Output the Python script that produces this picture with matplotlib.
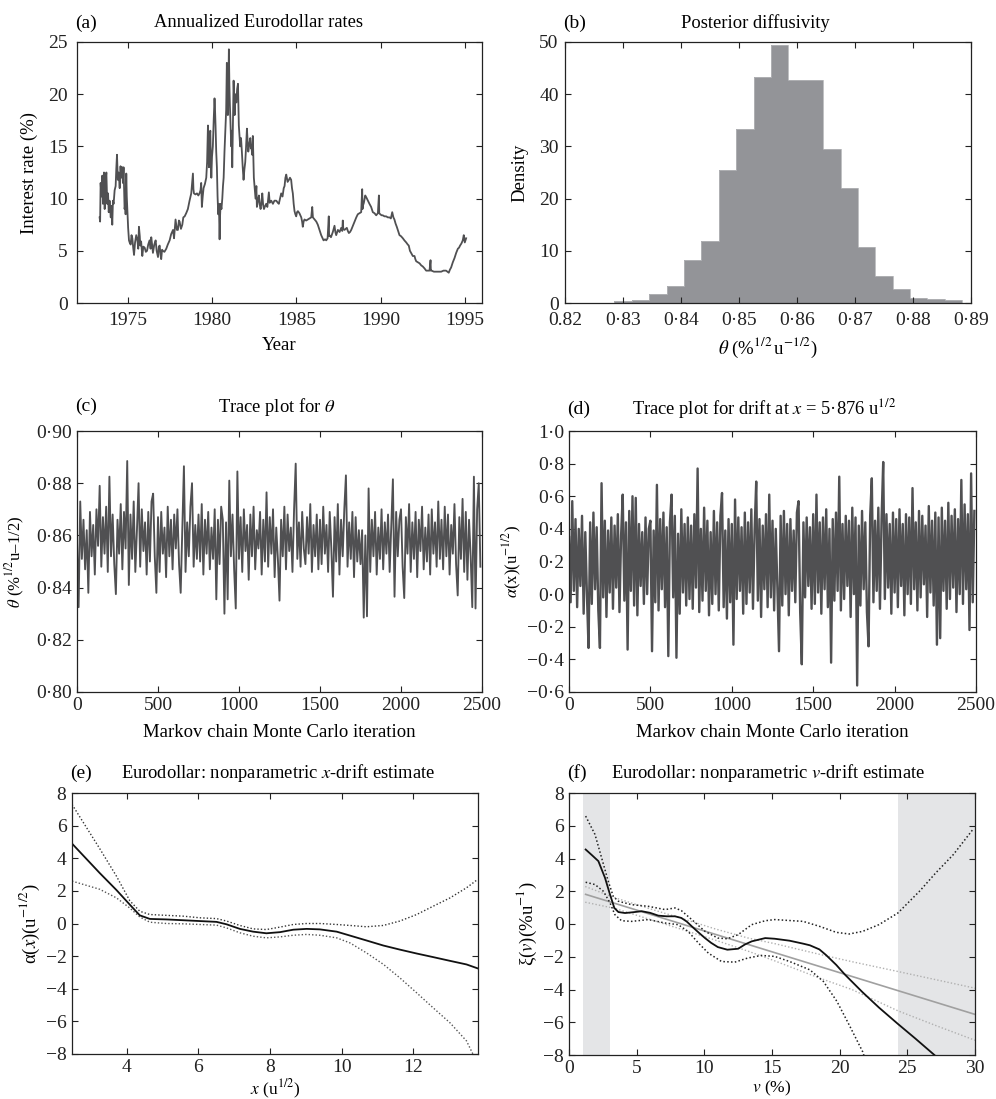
import numpy as np
import matplotlib
matplotlib.use("Agg")
import matplotlib.pyplot as plt

plt.rcParams['font.family'] = ['Liberation Serif', 'DejaVu Serif']
plt.rcParams['mathtext.fontset'] = 'stix'

# ---- (a) Eurodollar rates ----
years_a = [
    1973.34, 1973.37, 1973.40, 1973.45, 1973.50, 1973.54, 1973.60, 1973.64, 1973.70, 1973.74,
    1973.79, 1973.84, 1973.88, 1973.93, 1974.00, 1974.05, 1974.09, 1974.13, 1974.17, 1974.23,
    1974.29, 1974.33, 1974.37, 1974.42, 1974.47, 1974.53, 1974.58, 1974.62, 1974.68, 1974.72,
    1974.76, 1974.80, 1974.82, 1974.86, 1974.88, 1974.92, 1974.95, 1974.98, 1975.03, 1975.08,
    1975.12, 1975.18, 1975.23, 1975.28, 1975.33, 1975.38, 1975.44, 1975.51, 1975.58, 1975.63,
    1975.67, 1975.72, 1975.75, 1975.80, 1975.87, 1975.93, 1976.01, 1976.08, 1976.15, 1976.22,
    1976.30, 1976.36, 1976.40, 1976.45, 1976.50, 1976.58, 1976.66, 1976.72, 1976.80, 1976.85,
    1976.90, 1976.95, 1976.99, 1977.04, 1977.09, 1977.18, 1977.29, 1977.38, 1977.49, 1977.58,
    1977.69, 1977.75, 1977.84, 1977.92, 1977.98, 1978.04, 1978.08, 1978.16, 1978.24, 1978.30,
    1978.38, 1978.47, 1978.57, 1978.67, 1978.77, 1978.87, 1978.90, 1978.93, 1979.02, 1979.11,
    1979.19, 1979.26, 1979.32, 1979.36, 1979.40, 1979.45, 1979.50, 1979.58, 1979.66, 1979.71,
    1979.76, 1979.79, 1979.82, 1979.86, 1979.90, 1979.93, 1979.96, 1980.00, 1980.05, 1980.10,
    1980.15, 1980.18, 1980.21, 1980.25, 1980.29, 1980.33, 1980.37, 1980.41, 1980.45, 1980.48,
    1980.51, 1980.56, 1980.61, 1980.65, 1980.69, 1980.74, 1980.80, 1980.84, 1980.88, 1980.91,
    1980.94, 1980.97, 1981.00, 1981.03, 1981.06, 1981.10, 1981.14, 1981.17, 1981.20, 1981.24,
    1981.28, 1981.31, 1981.34, 1981.38, 1981.44, 1981.49, 1981.54, 1981.57, 1981.59, 1981.63,
    1981.67, 1981.72, 1981.77, 1981.82, 1981.87, 1981.92, 1981.97, 1982.02, 1982.07, 1982.11,
    1982.15, 1982.21, 1982.27, 1982.31, 1982.34, 1982.38, 1982.42, 1982.45, 1982.48, 1982.53,
    1982.58, 1982.63, 1982.66, 1982.72, 1982.78, 1982.83, 1982.88, 1982.93, 1982.98, 1983.03,
    1983.08, 1983.15, 1983.21, 1983.28, 1983.37, 1983.42, 1983.51, 1983.61, 1983.70, 1983.81,
    1983.90, 1983.96, 1984.03, 1984.10, 1984.18, 1984.25, 1984.30, 1984.35, 1984.40, 1984.48,
    1984.56, 1984.62, 1984.69, 1984.74, 1984.79, 1984.84, 1984.89, 1984.94, 1984.99, 1985.04,
    1985.09, 1985.18, 1985.29, 1985.34, 1985.38, 1985.43, 1985.48, 1985.58, 1985.68, 1985.78,
    1985.88, 1985.94, 1985.98, 1986.08, 1986.18, 1986.27, 1986.37, 1986.47, 1986.55, 1986.61,
    1986.70, 1986.77, 1986.85, 1986.92, 1986.94, 1986.96, 1987.05, 1987.16, 1987.26, 1987.31,
    1987.36, 1987.46, 1987.56, 1987.66, 1987.72, 1987.75, 1987.78, 1987.85, 1987.92, 1987.99,
    1988.05, 1988.11, 1988.18, 1988.25, 1988.35, 1988.45, 1988.55, 1988.64, 1988.74, 1988.84,
    1988.90, 1988.92, 1988.94, 1989.00, 1989.08, 1989.15, 1989.24, 1989.33, 1989.43, 1989.53,
    1989.63, 1989.73, 1989.83, 1989.89, 1989.91, 1989.97, 1990.05, 1990.12, 1990.22, 1990.32,
    1990.42, 1990.52, 1990.60, 1990.68, 1990.75, 1990.81, 1990.88, 1990.95, 1991.03, 1991.11,
    1991.20, 1991.31, 1991.40, 1991.51, 1991.60, 1991.66, 1991.73, 1991.80, 1991.90, 1992.00,
    1992.05, 1992.10, 1992.20, 1992.30, 1992.40, 1992.49, 1992.60, 1992.69, 1992.80, 1992.89,
    1992.95, 1992.97, 1993.01, 1993.15, 1993.28, 1993.43, 1993.58, 1993.72, 1993.87, 1993.95,
    1994.03, 1994.10, 1994.17, 1994.27, 1994.37, 1994.47, 1994.57, 1994.64, 1994.70, 1994.78,
    1994.86, 1994.92, 1994.98, 1995.06]
rate_a = [
    8.2, 7.8, 11.5, 10.2, 12.2, 9.5, 12.5, 9.0, 11.8, 12.5,
    9.5, 10.5, 8.7, 9.8, 8.2, 9.3, 7.5, 9.8, 9.5, 10.8,
    11.2, 12.9, 14.2, 11.8, 12.5, 11.0, 13.1, 12.0, 13.0, 11.5,
    13.0, 10.5, 9.0, 9.5, 8.5, 12.4, 10.2, 9.0, 7.2, 6.0,
    5.8, 5.6, 6.5, 6.2, 5.3, 4.6, 5.8, 6.5, 6.0, 5.2,
    7.3, 6.4, 5.5, 5.9, 4.5, 5.4, 5.3, 4.9, 5.0, 5.6,
    6.0, 5.2, 6.3, 5.6, 4.8, 5.6, 6.0, 5.0, 4.4, 5.4,
    5.5, 4.6, 4.2, 5.1, 5.0, 4.9, 5.2, 5.6, 6.0, 6.6,
    7.0, 6.2, 8.0, 7.0, 7.0, 7.9, 7.8, 7.1, 7.5, 8.2,
    8.3, 8.6, 9.0, 9.8, 10.5, 12.4, 10.9, 10.5, 10.4, 10.5,
    10.3, 10.5, 10.8, 11.5, 9.2, 10.2, 11.0, 11.4, 12.0, 13.5,
    17.0, 14.5, 13.0, 15.8, 16.5, 13.8, 12.0, 14.0, 15.0, 17.5,
    19.6, 18.5, 17.0, 14.5, 13.0, 10.2, 8.5, 9.5, 6.1, 8.4,
    9.5, 9.0, 10.0, 11.2, 12.0, 14.5, 17.0, 18.5, 23.0, 19.5,
    18.0, 20.5, 24.3, 21.0, 19.0, 17.0, 15.0, 16.5, 13.0, 17.5,
    21.3, 19.5, 18.0, 20.0, 19.2, 20.5, 21.0, 18.5, 17.0, 16.0,
    15.0, 15.8, 14.5, 13.0, 11.8, 12.8, 13.5, 15.0, 16.7, 15.5,
    14.5, 15.2, 15.8, 14.8, 15.0, 14.2, 16.0, 14.0, 12.0, 11.0,
    10.0, 11.2, 9.2, 9.8, 10.3, 9.4, 9.0, 9.6, 10.5, 9.4,
    9.0, 9.3, 9.5, 9.2, 10.6, 9.6, 9.8, 9.5, 9.8, 9.8,
    9.6, 9.5, 10.0, 10.5, 10.2, 11.0, 11.2, 12.0, 12.3, 11.6,
    11.8, 12.0, 11.8, 11.0, 10.5, 9.5, 8.8, 8.5, 8.3, 8.7,
    8.8, 8.6, 8.2, 7.8, 7.3, 7.8, 8.0, 7.9, 8.0, 8.1,
    8.2, 9.2, 8.2, 8.0, 7.8, 7.5, 7.0, 6.5, 6.2, 6.0,
    6.1, 6.0, 6.2, 8.3, 6.4, 6.5, 6.3, 6.8, 7.4, 6.8,
    6.5, 7.0, 6.8, 7.2, 6.9, 7.9, 7.1, 7.0, 7.1, 7.2,
    6.9, 6.7, 6.8, 7.0, 7.4, 7.8, 8.2, 8.5, 8.6, 8.7,
    10.9, 9.0, 9.3, 9.6, 10.3, 10.1, 9.8, 9.5, 9.2, 8.7,
    8.6, 8.4, 8.6, 10.3, 8.6, 8.5, 8.4, 8.4, 8.3, 8.3,
    8.2, 8.2, 8.1, 8.7, 8.2, 8.0, 7.6, 7.3, 6.9, 6.5,
    6.4, 6.2, 6.0, 5.8, 5.6, 5.5, 5.0, 4.8, 4.5, 4.5,
    4.2, 4.0, 3.9, 3.8, 3.6, 3.5, 3.3, 3.1, 3.1, 3.1,
    4.1, 3.1, 3.1, 3.0, 3.0, 3.0, 3.0, 3.1, 3.1, 3.0,
    2.9, 3.2, 3.4, 3.9, 4.3, 4.8, 5.2, 5.3, 5.5, 5.7,
    6.0, 6.5, 5.8, 6.2]

# ---- (b) posterior histogram of theta ----
bin_edges_b = [0.8285, 0.8315, 0.8345, 0.8375, 0.8405, 0.8435, 0.8465, 0.8495, 0.8525,
               0.8555, 0.8585, 0.8615, 0.8645, 0.8675, 0.8705, 0.8735, 0.8765, 0.8795,
               0.8825, 0.8855, 0.8885]
density_b = [0.45, 0.6, 1.7, 3.2, 8.2, 11.9, 25.4, 33.3, 43.2, 49.5,
             42.7, 42.7, 29.5, 22.0, 10.7, 5.2, 2.6, 1.0, 0.75, 0.5]

# ---- (c) trace of theta, every 10th iteration ----
trace_c = [
    0.858, 0.8325, 0.873, 0.851, 0.866, 0.847, 0.862, 0.838, 0.869, 0.852, 0.864, 0.845, 0.870,
    0.856, 0.879, 0.848, 0.867, 0.853, 0.871, 0.846, 0.8825, 0.852, 0.868, 0.849, 0.8375,
    0.866, 0.853, 0.872, 0.847, 0.869, 0.855, 0.8885, 0.841, 0.868, 0.851, 0.873, 0.846, 0.862,
    0.880, 0.848, 0.870, 0.854, 0.865, 0.845, 0.869, 0.850, 0.873, 0.876, 0.852, 0.838,
    0.867, 0.846, 0.869, 0.853, 0.863, 0.844, 0.871, 0.852, 0.866, 0.847, 0.868, 0.855, 0.870,
    0.849, 0.838, 0.862, 0.8865, 0.846, 0.865, 0.852, 0.871, 0.880, 0.848, 0.864, 0.851,
    0.868, 0.850, 0.872, 0.845, 0.866, 0.853, 0.869, 0.847, 0.863, 0.851, 0.870, 0.8355, 0.866,
    0.849, 0.871, 0.866, 0.830, 0.865, 0.8355, 0.881, 0.852, 0.868, 0.847, 0.832, 0.8845,
    0.851, 0.867, 0.846, 0.870, 0.854, 0.864, 0.843, 0.868, 0.852, 0.871, 0.847, 0.862, 0.855,
    0.869, 0.845, 0.866, 0.850, 0.8765, 0.848, 0.867, 0.853, 0.870, 0.844, 0.863, 0.851,
    0.835, 0.866, 0.852, 0.871, 0.847, 0.868, 0.854, 0.863, 0.846, 0.870, 0.8875, 0.851, 0.865,
    0.848, 0.869, 0.855, 0.849, 0.867, 0.853, 0.872, 0.846, 0.864, 0.852, 0.868, 0.847,
    0.866, 0.849, 0.871, 0.853, 0.864, 0.846, 0.869, 0.855, 0.8365, 0.867, 0.850, 0.872, 0.845,
    0.866, 0.852, 0.870, 0.883, 0.848, 0.865, 0.851, 0.869, 0.844, 0.867, 0.850, 0.862,
    0.849, 0.862, 0.8285, 0.860, 0.829, 0.878, 0.846, 0.866, 0.852, 0.869, 0.845, 0.863, 0.851,
    0.870, 0.847, 0.865, 0.853, 0.868, 0.846, 0.864, 0.8815, 0.8365, 0.869, 0.852, 0.866,
    0.870, 0.848, 0.836, 0.867, 0.853, 0.872, 0.846, 0.865, 0.851, 0.869, 0.844, 0.866, 0.854,
    0.871, 0.847, 0.863, 0.850, 0.868, 0.845, 0.870, 0.853, 0.865, 0.848, 0.873, 0.851,
    0.866, 0.847, 0.871, 0.852, 0.868, 0.845, 0.864, 0.853, 0.872, 0.849, 0.837, 0.867, 0.851,
    0.874, 0.846, 0.869, 0.843, 0.866, 0.852, 0.8325, 0.8825, 0.832, 0.870, 0.880, 0.848]

# ---- (d) trace of drift at x = 5.876, every 10th iteration ----
trace_d = [
    0.35, -0.05, 0.57, 0.02, 0.46, -0.08, 0.40, 0.05, 0.48, -0.12, 0.38, 0.00, -0.33,
    0.44, -0.06, 0.50, 0.03, 0.41, -0.10, -0.33, 0.68, -0.02, 0.45, -0.14, 0.39,
    0.01, 0.47, -0.09, 0.42, 0.04, 0.49, -0.11, 0.36, 0.61, -0.04, 0.44, -0.34, 0.51,
    0.02, 0.60, -0.07, 0.59, -0.13, 0.43, 0.05, 0.38, -0.06, 0.47, 0.00, 0.40,
    0.45, -0.35, 0.39, -0.05, 0.67, -0.10, 0.46, 0.03, 0.50, -0.08, 0.41, -0.38, 0.44,
    0.61, -0.02, 0.48, -0.39, 0.37, -0.12, 0.52, 0.01, 0.43, -0.07, 0.47, -0.03,
    0.42, -0.09, 0.49, 0.04, 0.77, -0.11, 0.40, -0.04, 0.53, 0.02, 0.45, -0.13, 0.38,
    -0.06, 0.51, 0.00, 0.44, -0.10, 0.48, 0.62, -0.08, 0.39, -0.15, 0.46, -0.05,
    0.43, -0.31, 0.58, -0.03, 0.47, 0.02, 0.41, -0.12, 0.50, -0.06, 0.44, 0.01, 0.52,
    -0.09, 0.39, 0.69, -0.04, 0.46, -0.14, 0.42, 0.03, 0.49, -0.08, 0.61, -0.02,
    0.45, -0.10, 0.40, 0.04, -0.35, 0.48, -0.07, 0.51, 0.00, 0.43, -0.13, 0.46, 0.02,
    0.39, -0.05, 0.50, 0.57, -0.11, -0.43, 0.44, -0.02, 0.47, 0.05, 0.41, -0.09,
    0.49, -0.06, 0.61, 0.01, 0.44, -0.12, 0.47, 0.03, 0.52, -0.08, 0.40, -0.42, 0.46,
    -0.04, 0.50, 0.02, 0.72, -0.10, 0.43, -0.03, 0.48, 0.05, 0.45, -0.14, 0.53,
    0.00, 0.47, -0.56, 0.42, -0.07, 0.51, 0.03, 0.44, -0.11, -0.32, 0.48, 0.71, -0.05,
    0.45, 0.02, 0.53, -0.09, 0.46, 0.81, -0.03, 0.49, 0.04, 0.43, -0.12, 0.50,
    0.01, 0.46, -0.08, 0.52, 0.05, 0.43, -0.13, 0.49, 0.00, 0.47, -0.06, 0.65, 0.03,
    0.44, -0.10, 0.51, -0.02, 0.48, 0.06, 0.42, -0.14, 0.54, 0.01, 0.45, -0.07,
    0.50, -0.31, 0.47, -0.27, 0.53, 0.02, 0.45, -0.09, 0.56, -0.03, 0.48, 0.04, 0.52,
    -0.11, 0.46, 0.00, 0.70, -0.06, 0.55, 0.03, 0.49, -0.22, 0.74, -0.05, 0.51]
thin_step = 10

# ---- (e) x-drift estimate with pointwise band ----
x_e = [2.48, 3.25, 3.72, 4.09, 4.37, 4.65, 5.11, 5.58, 6.04, 6.51, 6.79, 7.16, 7.53, 7.90,
       8.28, 8.65, 9.02, 9.39, 9.86, 10.23, 10.69, 11.16, 11.62, 12.09, 12.55, 13.02, 13.48, 13.79]
drift_e = [4.9, 3.1, 2.05, 1.16, 0.5, 0.28, 0.25, 0.2, 0.15, 0.1, -0.05, -0.33, -0.5, -0.6,
           -0.53, -0.38, -0.33, -0.36, -0.5, -0.74, -1.04, -1.35, -1.6, -1.84, -2.06, -2.29, -2.51, -2.75]
upper_e = [7.3, 4.6, 2.9, 1.4, 0.75, 0.55, 0.5, 0.45, 0.35, 0.3, 0.15, -0.12, -0.33, -0.37,
           -0.22, -0.06, 0.0, 0.0, -0.06, -0.12, -0.2, -0.12, 0.15, 0.55, 1.06, 1.57, 2.19, 2.7]
lower_e = [2.6, 2.1, 1.57, 0.95, 0.4, 0.08, 0.0, -0.02, -0.06, -0.1, -0.27, -0.57, -0.78, -0.88,
           -0.82, -0.72, -0.67, -0.72, -0.88, -1.19, -1.8, -2.5, -3.33, -4.25, -5.17, -6.09, -7.2, -8.6]

# ---- (f) v-drift estimate, parametric fit and bands ----
x_f = [1.23, 1.7, 2.17, 2.66, 3.03, 3.35, 3.65, 4.14, 4.75, 5.37, 6.0, 6.6, 7.2, 7.83, 8.3,
       8.7, 9.07, 9.55, 10.05, 10.5, 11.0, 11.7, 12.5, 13.0, 13.5, 14.5, 15.2, 16.3, 17.3,
       17.8, 18.5, 19.0, 19.75, 20.4, 21.67, 22.9, 24.3, 25.6, 27.0]
drift_f = [4.55, 4.2, 3.84, 2.82, 1.8, 0.98, 0.73, 0.67, 0.72, 0.78, 0.68, 0.51, 0.47, 0.47,
           0.37, 0.15, -0.14, -0.5, -0.86, -1.15, -1.41, -1.57, -1.51, -1.25, -1.06, -0.86,
           -0.9, -1.02, -1.2, -1.3, -1.55, -1.9, -2.5, -3.1, -4.15, -5.1, -6.1, -7.0, -8.0]
x_fu = [1.23, 1.92, 2.41, 2.9, 3.27, 3.65, 4.63, 5.86, 7.1, 7.83, 8.3, 9.07, 10.05, 11.0,
        11.7, 12.5, 13.5, 14.5, 15.2, 17.3, 18.5, 19.75, 20.7, 21.7, 22.9, 24.3, 25.9,
        27.1, 28.4, 29.85]
upper_f = [6.59, 5.47, 4.04, 2.61, 1.69, 1.39, 1.18, 1.08, 0.88, 0.98, 0.82, 0.27, -0.45,
           -0.86, -0.9, -0.65, -0.04, 0.2, 0.27, 0.16, -0.14, -0.51, -0.61, -0.45, -0.04,
           0.67, 2.0, 3.12, 4.24, 5.78]
x_fl = [1.23, 1.92, 2.54, 3.03, 3.39, 3.88, 4.63, 5.86, 7.1, 8.06, 8.8, 9.56, 10.3, 11.27,
        12.25, 13.2, 14.2, 15.2, 16.3, 17.8, 18.8, 19.8, 20.7, 21.7, 21.9]
lower_f = [2.55, 2.41, 2.0, 1.29, 0.57, 0.2, 0.16, 0.27, 0.06, -0.04, -0.45, -1.16, -1.78,
           -2.29, -2.33, -2.08, -1.92, -1.98, -2.29, -2.8, -3.51, -4.73, -6.16, -7.8, -8.3]
x_lin = [1.23, 30.0]
linear_f = [1.81, -5.52]
x_band = [1.2, 3.4, 5.9, 8.3, 10.8, 13.2, 15.2, 18.5, 20.9, 24.3, 27.1, 30.0]
lin_upper = [2.29, 1.6, 0.95, 0.35, -0.3, -0.85, -1.2, -1.85, -2.3, -2.9, -3.4, -3.92]
lin_lower = [1.33, 0.95, 0.3, -0.32, -0.98, -1.65, -2.25, -3.3, -4.0, -5.3, -6.2, -7.1]
shade_f = [(1.0, 3.0), (24.3, 30.0)]

# tick labels as printed
ticks_b = [0.82, 0.83, 0.84, 0.85, 0.86, 0.87, 0.88, 0.89]
labels_b = ['0.82', '0·83', '0·84', '0·85', '0·86', '0·87', '0·88', '0·89']
ticks_c = [0.80, 0.82, 0.84, 0.86, 0.88, 0.90]
labels_c = ['0·80', '0·82', '0·84', '0·86', '0·88', '0·90']
ticks_d = [-0.6, -0.4, -0.2, 0.0, 0.2, 0.4, 0.6, 0.8, 1.0]
labels_d = ['−0·6', '−0·4', '−0·2', '0·0', '0·2', '0·4', '0·6', '0·8', '1·0']

LINE = '#505052'
TICK_FS = 14
TITLE_FS = 13.3
LABEL_FS = 13.5

fig = plt.figure(figsize=(9.96, 10.99), dpi=100)
W, H = 996.0, 1099.0


def add_ax(l, r, t, b):
    return fig.add_axes([l / W, 1 - b / H, (r - l) / W, (b - t) / H])


def style(ax, xpad, ypad):
    ax.tick_params(direction='in', top=True, right=True, length=4, width=0.8,
                   labelsize=TICK_FS, colors='#222')
    ax.tick_params(axis='x', pad=xpad)
    ax.tick_params(axis='y', pad=ypad)
    for s in ax.spines.values():
        s.set_linewidth(0.9)
        s.set_color('#222')


def head(ax, letter, title, tx, ty):
    ax.text(-0.005, ty, letter, transform=ax.transAxes, ha='left', va='center', fontsize=14)
    ax.text(tx, ty, title, transform=ax.transAxes, ha='center', va='center', fontsize=TITLE_FS)


ax_a = add_ax(77, 482, 42, 303)
ax_b = add_ax(565, 971, 42, 303)
ax_c = add_ax(77, 482, 431, 692)
ax_d = add_ax(569, 976, 431, 692)
ax_e = add_ax(72, 478, 793, 1054)
ax_f = add_ax(569, 975, 793, 1055)

# (a)
ax_a.plot(years_a, rate_a, color=LINE, lw=1.3)
ax_a.set_xlim(1972.0, 1996.0)
ax_a.set_ylim(0, 25)
ax_a.set_xticks([1975, 1980, 1985, 1990, 1995])
ax_a.set_yticks([0, 5, 10, 15, 20, 25])
style(ax_a, 6.5, 6.5)
head(ax_a, '(a)', 'Annualized Eurodollar rates', 0.447, 1.073)
ax_a.set_xlabel('Year', fontsize=LABEL_FS)
ax_a.set_ylabel('Interest rate (%)', fontsize=LABEL_FS)
ax_a.xaxis.set_label_coords(0.5, -0.132)
ax_a.yaxis.set_label_coords(-0.096, 0.5)

# (b)
ax_b.stairs(density_b, bin_edges_b, fill=True, color='#939498', lw=0)
ax_b.stairs(density_b, bin_edges_b, fill=False, color='#b4b5b8', lw=0.6)
ax_b.set_xlim(0.82, 0.89)
ax_b.set_ylim(0, 50)
ax_b.set_xticks(ticks_b, labels_b)
ax_b.set_yticks([0, 10, 20, 30, 40, 50])
style(ax_b, 6.5, 4.5)
head(ax_b, '(b)', 'Posterior diffusivity', 0.468, 1.073)
ax_b.set_xlabel(r'$\theta$ (%$^{1/2}\,$u$^{-1/2}$)', fontsize=LABEL_FS)
ax_b.set_ylabel('Density', fontsize=LABEL_FS)
ax_b.xaxis.set_label_coords(0.5, -0.125)
ax_b.yaxis.set_label_coords(-0.089, 0.5)

# (c)
iters_c = np.arange(len(trace_c)) * thin_step
ax_c.plot(iters_c, trace_c, color=LINE, lw=1.35)
ax_c.set_xlim(0, 2500)
ax_c.set_ylim(0.80, 0.90)
ax_c.set_xticks([0, 500, 1000, 1500, 2000, 2500])
ax_c.set_yticks(ticks_c, labels_c)
style(ax_c, 3.5, 3.5)
head(ax_c, '(c)', r'Trace plot for $\theta$', 0.494, 1.093)
ax_c.set_xlabel('Markov chain Monte Carlo iteration', fontsize=LABEL_FS)
ax_c.set_ylabel(r'$\theta$ (%$^{1/2}$u–1/2)', fontsize=12)
ax_c.xaxis.set_label_coords(0.5, -0.122)
ax_c.yaxis.set_label_coords(-0.123, 0.5)

# (d)
iters_d = np.arange(len(trace_d)) * thin_step
ax_d.plot(iters_d, trace_d, color=LINE, lw=1.7)
ax_d.set_xlim(0, 2500)
ax_d.set_ylim(-0.6, 1.0)
ax_d.set_xticks([0, 500, 1000, 1500, 2000, 2500])
ax_d.set_yticks(ticks_d, labels_d)
style(ax_d, 3.5, 3.5)
head(ax_d, '(d)', r'Trace plot for drift at $x$ = 5·876 u$^{1/2}$', 0.48, 1.084)
ax_d.set_xlabel('Markov chain Monte Carlo iteration', fontsize=LABEL_FS)
ax_d.set_ylabel(r'$\alpha$(x)(u$^{-1/2}$)', fontsize=12)
ax_d.xaxis.set_label_coords(0.5, -0.122)
ax_d.yaxis.set_label_coords(-0.111, 0.5)

# (e)
ax_e.plot(x_e, upper_e, color='#333', lw=1.0, ls=(0, (1, 1.5)))
ax_e.plot(x_e, lower_e, color='#555', lw=1.0, ls=(0, (1, 1.5)))
ax_e.plot(x_e, drift_e, color='#111', lw=1.3)
ax_e.set_xlim(2.48, 13.8)
ax_e.set_ylim(-8, 8)
ax_e.set_xticks([4, 6, 8, 10, 12])
ax_e.set_yticks([-8, -6, -4, -2, 0, 2, 4, 6, 8])
style(ax_e, 3.5, 4)
head(ax_e, '(e)', r'Eurodollar: nonparametric $x$-drift estimate', 0.507, 1.077)
ax_e.set_xlabel(r'$x$ (u$^{1/2}$)', fontsize=12.5)
ax_e.set_ylabel(r'α($x$)(u$^{-1/2}$)', fontsize=LABEL_FS)
ax_e.xaxis.set_label_coords(0.5, -0.09)
ax_e.yaxis.set_label_coords(-0.074, 0.5)

# (f)
for lo, hi in shade_f:
    ax_f.axvspan(lo, hi, color='#e4e5e7', lw=0, zorder=0)
ax_f.plot(x_band, lin_upper, color='#b0b0b0', lw=1.0, ls=(0, (1, 1.5)))
ax_f.plot(x_band, lin_lower, color='#b0b0b0', lw=1.0, ls=(0, (1, 1.5)))
ax_f.plot(x_lin, linear_f, color='#a0a0a0', lw=1.2)
ax_f.plot(x_fu, upper_f, color='#222', lw=1.1, ls=(0, (1, 1.5)))
ax_f.plot(x_fl, lower_f, color='#222', lw=1.1, ls=(0, (1, 1.5)))
ax_f.plot(x_f, drift_f, color='#111', lw=1.3)
ax_f.set_xlim(0, 30)
ax_f.set_ylim(-8, 8)
ax_f.set_xticks([0, 5, 10, 15, 20, 25, 30])
ax_f.set_yticks([-8, -6, -4, -2, 0, 2, 4, 6, 8])
style(ax_f, 3.5, 3.5)
head(ax_f, '(f)', r'Eurodollar: nonparametric $v$-drift estimate', 0.49, 1.077)
ax_f.set_xlabel(r'$v$ (%)', fontsize=12.5)
ax_f.set_ylabel(r'ξ($v$)(%u$^{-1}$)', fontsize=LABEL_FS)
ax_f.xaxis.set_label_coords(0.5, -0.092)
ax_f.yaxis.set_label_coords(-0.074, 0.5)

fig.savefig('out.png', dpi=100)
